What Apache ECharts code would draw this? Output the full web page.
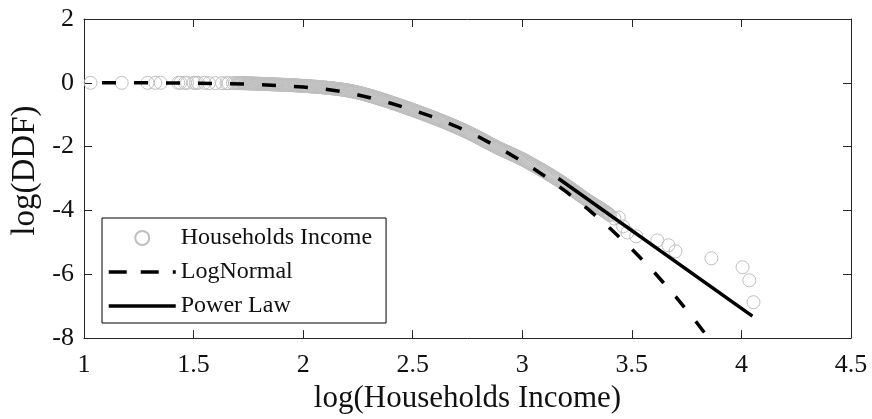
<!DOCTYPE html>
<html><head><meta charset="utf-8">
<script src="https://cdn.jsdelivr.net/npm/echarts@6/dist/echarts.min.js"></script>
<style>html,body{margin:0;padding:0;background:#fff}#c{width:872px;height:419px}</style>
</head><body><div id="c"></div>
<script>
// ---- data ----
const seriesNames = ['Households Income', 'LogNormal', 'Power Law'];
const xAxisTitle = 'log(Households Income)';
const yAxisTitle = 'log(DDF)';

// sparse points at the top (y ~ 0)
const headPoints = [[1.03,0],[1.172,0],[1.29,0],[1.325,0],[1.35,0],[1.43,0],[1.44,0],[1.46,0],[1.47,0],[1.50,0],[1.51,0],[1.52,0],[1.55,0],[1.57,-0.01],[1.60,-0.01],[1.63,-0.01],[1.65,-0.01],[1.66,-0.01],[1.68,-0.01],[1.69,-0.01]];
// dense band of observations
const bandPoints = [
[1.700,-0.010],[1.705,-0.010],[1.710,-0.011],[1.715,-0.012],[1.720,-0.012],[1.725,-0.013],[1.730,-0.014],[1.735,-0.015],[1.740,-0.016],[1.745,-0.017],
[1.750,-0.018],[1.755,-0.019],[1.760,-0.020],[1.765,-0.021],[1.770,-0.022],[1.775,-0.024],[1.780,-0.025],[1.785,-0.026],[1.790,-0.027],[1.795,-0.029],
[1.800,-0.030],[1.805,-0.031],[1.810,-0.032],[1.815,-0.034],[1.820,-0.035],[1.825,-0.037],[1.830,-0.038],[1.835,-0.039],[1.840,-0.040],[1.845,-0.042],
[1.850,-0.043],[1.855,-0.045],[1.860,-0.046],[1.865,-0.048],[1.870,-0.049],[1.875,-0.051],[1.880,-0.052],[1.885,-0.054],[1.890,-0.055],[1.895,-0.057],
[1.900,-0.058],[1.905,-0.060],[1.910,-0.061],[1.915,-0.063],[1.920,-0.065],[1.925,-0.067],[1.930,-0.068],[1.935,-0.070],[1.940,-0.072],[1.945,-0.074],
[1.950,-0.075],[1.955,-0.077],[1.960,-0.079],[1.965,-0.081],[1.970,-0.083],[1.975,-0.085],[1.980,-0.087],[1.985,-0.089],[1.990,-0.091],[1.995,-0.093],
[2.000,-0.095],[2.005,-0.098],[2.010,-0.100],[2.015,-0.102],[2.020,-0.104],[2.025,-0.107],[2.030,-0.109],[2.035,-0.112],[2.040,-0.114],[2.045,-0.117],
[2.050,-0.119],[2.055,-0.122],[2.060,-0.124],[2.065,-0.127],[2.070,-0.130],[2.075,-0.133],[2.080,-0.136],[2.085,-0.139],[2.090,-0.142],[2.095,-0.145],
[2.100,-0.148],[2.105,-0.152],[2.110,-0.155],[2.115,-0.159],[2.120,-0.162],[2.125,-0.166],[2.130,-0.170],[2.135,-0.174],[2.140,-0.178],[2.145,-0.182],
[2.150,-0.186],[2.155,-0.191],[2.160,-0.195],[2.165,-0.200],[2.170,-0.204],[2.175,-0.209],[2.180,-0.214],[2.185,-0.219],[2.190,-0.224],[2.195,-0.230],
[2.200,-0.235],[2.205,-0.241],[2.210,-0.247],[2.215,-0.254],[2.220,-0.260],[2.225,-0.267],[2.230,-0.274],[2.235,-0.282],[2.240,-0.289],[2.245,-0.297],
[2.250,-0.305],[2.255,-0.314],[2.260,-0.322],[2.265,-0.331],[2.270,-0.340],[2.275,-0.349],[2.280,-0.358],[2.285,-0.368],[2.290,-0.377],[2.295,-0.387],
[2.300,-0.396],[2.305,-0.406],[2.310,-0.416],[2.315,-0.426],[2.320,-0.436],[2.325,-0.447],[2.330,-0.457],[2.335,-0.468],[2.340,-0.478],[2.345,-0.489],
[2.350,-0.500],[2.355,-0.511],[2.360,-0.522],[2.365,-0.533],[2.370,-0.544],[2.375,-0.555],[2.380,-0.566],[2.385,-0.578],[2.390,-0.589],[2.395,-0.601],
[2.400,-0.612],[2.405,-0.624],[2.410,-0.635],[2.415,-0.647],[2.420,-0.658],[2.425,-0.670],[2.430,-0.681],[2.435,-0.693],[2.440,-0.705],[2.445,-0.717],
[2.450,-0.729],[2.455,-0.741],[2.460,-0.753],[2.465,-0.765],[2.470,-0.777],[2.475,-0.789],[2.480,-0.801],[2.485,-0.814],[2.490,-0.826],[2.495,-0.838],
[2.500,-0.850],[2.505,-0.863],[2.510,-0.875],[2.515,-0.888],[2.520,-0.900],[2.525,-0.913],[2.530,-0.925],[2.535,-0.938],[2.540,-0.950],[2.545,-0.963],
[2.550,-0.976],[2.555,-0.989],[2.560,-1.002],[2.565,-1.015],[2.570,-1.028],[2.575,-1.041],[2.580,-1.054],[2.585,-1.067],[2.590,-1.080],[2.595,-1.094],
[2.600,-1.107],[2.605,-1.121],[2.610,-1.134],[2.615,-1.148],[2.620,-1.161],[2.625,-1.175],[2.630,-1.188],[2.635,-1.202],[2.640,-1.216],[2.645,-1.230],
[2.650,-1.244],[2.655,-1.258],[2.660,-1.272],[2.665,-1.286],[2.670,-1.300],[2.675,-1.315],[2.680,-1.329],[2.685,-1.344],[2.690,-1.358],[2.695,-1.373],
[2.700,-1.388],[2.705,-1.403],[2.710,-1.418],[2.715,-1.434],[2.720,-1.449],[2.725,-1.465],[2.730,-1.480],[2.735,-1.496],[2.740,-1.512],[2.745,-1.529],
[2.750,-1.545],[2.755,-1.562],[2.760,-1.578],[2.765,-1.595],[2.770,-1.612],[2.775,-1.629],[2.780,-1.646],[2.785,-1.664],[2.790,-1.681],[2.795,-1.699],
[2.800,-1.716],[2.805,-1.734],[2.810,-1.752],[2.815,-1.770],[2.820,-1.788],[2.825,-1.807],[2.830,-1.825],[2.835,-1.844],[2.840,-1.862],[2.845,-1.881],
[2.850,-1.899],[2.855,-1.917],[2.860,-1.935],[2.865,-1.953],[2.870,-1.971],[2.875,-1.989],[2.880,-2.006],[2.885,-2.023],[2.890,-2.040],[2.895,-2.057],
[2.900,-2.073],[2.905,-2.089],[2.910,-2.105],[2.915,-2.121],[2.920,-2.136],[2.925,-2.152],[2.930,-2.167],[2.935,-2.183],[2.940,-2.198],[2.945,-2.214],
[2.950,-2.229],[2.955,-2.245],[2.960,-2.260],[2.965,-2.276],[2.970,-2.292],[2.975,-2.309],[2.980,-2.325],[2.985,-2.342],[2.990,-2.358],[2.995,-2.375],
[3.000,-2.392],[3.005,-2.410],[3.010,-2.428],[3.015,-2.447],[3.020,-2.465],[3.025,-2.484],[3.030,-2.503],[3.035,-2.522],[3.040,-2.541],[3.045,-2.561],
[3.050,-2.580],[3.055,-2.600],[3.060,-2.619],[3.065,-2.639],[3.070,-2.658],[3.075,-2.678],[3.080,-2.697],[3.085,-2.717],[3.090,-2.737],[3.095,-2.757],
[3.100,-2.777],[3.105,-2.798],[3.110,-2.818],[3.115,-2.839],[3.120,-2.859],[3.125,-2.880],[3.130,-2.900],[3.135,-2.921],[3.140,-2.942],[3.145,-2.964],
[3.150,-2.985],[3.155,-3.007],[3.160,-3.028],[3.165,-3.050],[3.170,-3.072],[3.175,-3.095],[3.180,-3.117],[3.185,-3.140],[3.190,-3.163],[3.195,-3.187],
[3.200,-3.210],[3.205,-3.234],[3.210,-3.258],[3.215,-3.283],[3.220,-3.307],[3.225,-3.332],[3.230,-3.356],[3.235,-3.381],[3.240,-3.405],[3.245,-3.430],
[3.250,-3.454],[3.255,-3.479],[3.260,-3.503],[3.265,-3.528],[3.270,-3.552],[3.275,-3.576],[3.280,-3.600],[3.285,-3.624],[3.290,-3.647],[3.295,-3.670],
[3.300,-3.693],[3.305,-3.716],[3.310,-3.738],[3.315,-3.760],[3.320,-3.782],[3.325,-3.804],[3.330,-3.825],[3.335,-3.847],[3.340,-3.868],[3.345,-3.889],
[3.350,-3.910],[3.355,-3.931],[3.360,-3.952],[3.365,-3.974],[3.370,-3.996],[3.375,-4.020],[3.380,-4.043],[3.385,-4.068],[3.390,-4.092],[3.395,-4.119],[3.400,-4.145]];
// sparse tail observations
const tailPoints = [[3.42,-4.25],[3.44,-4.22],[3.46,-4.50],[3.48,-4.69],[3.52,-4.81],[3.616,-4.94],[3.667,-5.09],[3.699,-5.28],[3.863,-5.50],[4.005,-5.78],[4.036,-6.19],[4.055,-6.875]];

const logNormalFit = [[1.0,0],[1.25,0],[1.5,-0.01],[1.75,-0.04],[2.0,-0.13],[2.1,-0.20],[2.2,-0.30],[2.3,-0.46],[2.4,-0.64],[2.5,-0.85],[2.6,-1.09],[2.7,-1.37],[2.8,-1.69],[2.9,-2.06],[3.0,-2.46],[3.1,-2.91],[3.2,-3.41],[3.3,-3.96],[3.4,-4.56],[3.5,-5.21],[3.6,-5.92],[3.7,-6.70],[3.8,-7.55],[3.85,-8.0]];
const powerLawFit = [[3.165,-3.0],[4.05,-7.31]];

const xMin = 1, xMax = 4.5, xStep = 0.5;
const yMin = -8, yMax = 2, yStep = 2;

// ---- chart ----
const font = 'Liberation Serif';
const axisColor = '#262626';
const grey = '#bfbfbf';
const chart = echarts.init(document.getElementById('c'), null, {renderer: 'canvas'});
const baseX = {type: 'value', min: xMin, max: xMax, interval: xStep, splitLine: {show: false},
  axisLine: {show: true, onZero: false, lineStyle: {color: axisColor, width: 1}},
  axisTick: {show: true, inside: true, length: 8, lineStyle: {color: axisColor}}};
const baseY = {type: 'value', min: yMin, max: yMax, interval: yStep, splitLine: {show: false},
  axisLine: {show: true, onZero: false, lineStyle: {color: axisColor, width: 1}},
  axisTick: {show: true, inside: true, length: 8, lineStyle: {color: axisColor}}};
chart.setOption({
  animation: false,
  backgroundColor: '#fff',
  grid: {left: 84, right: 21, top: 19, bottom: 80, containLabel: false},
  xAxis: [
    Object.assign({}, baseX, {position: 'bottom',
      axisLabel: {show: true, margin: 14, fontFamily: font, fontSize: 26, color: '#111'},
      name: xAxisTitle, nameLocation: 'middle', nameGap: 34,
      nameTextStyle: {fontFamily: font, fontSize: 31, color: '#111'}}),
    Object.assign({}, baseX, {position: 'top', axisLabel: {show: false}})
  ],
  yAxis: [
    Object.assign({}, baseY, {position: 'left',
      axisLabel: {show: true, margin: 10, fontFamily: font, fontSize: 26, color: '#111'},
      name: yAxisTitle, nameLocation: 'middle', nameGap: 41, nameRotate: 90,
      nameTextStyle: {fontFamily: font, fontSize: 33, color: '#111', padding: [0, 0, 0, 16]}}),
    Object.assign({}, baseY, {position: 'right', axisLabel: {show: false}})
  ],
  legend: {
    show: true, orient: 'vertical', left: 102, top: 218,
    itemWidth: 67, itemHeight: 14, itemGap: 10,
    padding: [8, 14, 5, 5],
    borderColor: '#000', borderWidth: 1, backgroundColor: '#fff', borderRadius: 0,
    selectedMode: false,
    textStyle: {fontFamily: font, fontSize: 24, color: '#111'},
    data: [
      {name: seriesNames[0]},
      {name: seriesNames[1], itemStyle: {opacity: 0}, lineStyle: {width: 3.5, color: '#000', type: [18, 14], dashOffset: 0}},
      {name: seriesNames[2], itemStyle: {opacity: 0}, lineStyle: {width: 3.5, color: '#000'}}
    ]
  },
  series: [
    {name: seriesNames[0], type: 'scatter', xAxisIndex: 0, yAxisIndex: 0,
     data: headPoints.concat(bandPoints, tailPoints),
     symbol: 'circle', symbolSize: 13, silent: true,
     itemStyle: {color: 'rgba(255,255,255,0)', borderColor: grey, borderWidth: 1, opacity: 1}},
    {name: seriesNames[1], type: 'line', data: logNormalFit, symbol: 'none', smooth: false, silent: true,
     itemStyle: {color: '#000'},
     lineStyle: {color: '#000', width: 3.5, type: [14, 18], dashOffset: 14}},
    {name: seriesNames[2], type: 'line', data: powerLawFit, symbol: 'none', silent: true,
     itemStyle: {color: '#000'},
     lineStyle: {color: '#000', width: 3.5, type: 'solid'}}
  ]
});
</script></body></html>
